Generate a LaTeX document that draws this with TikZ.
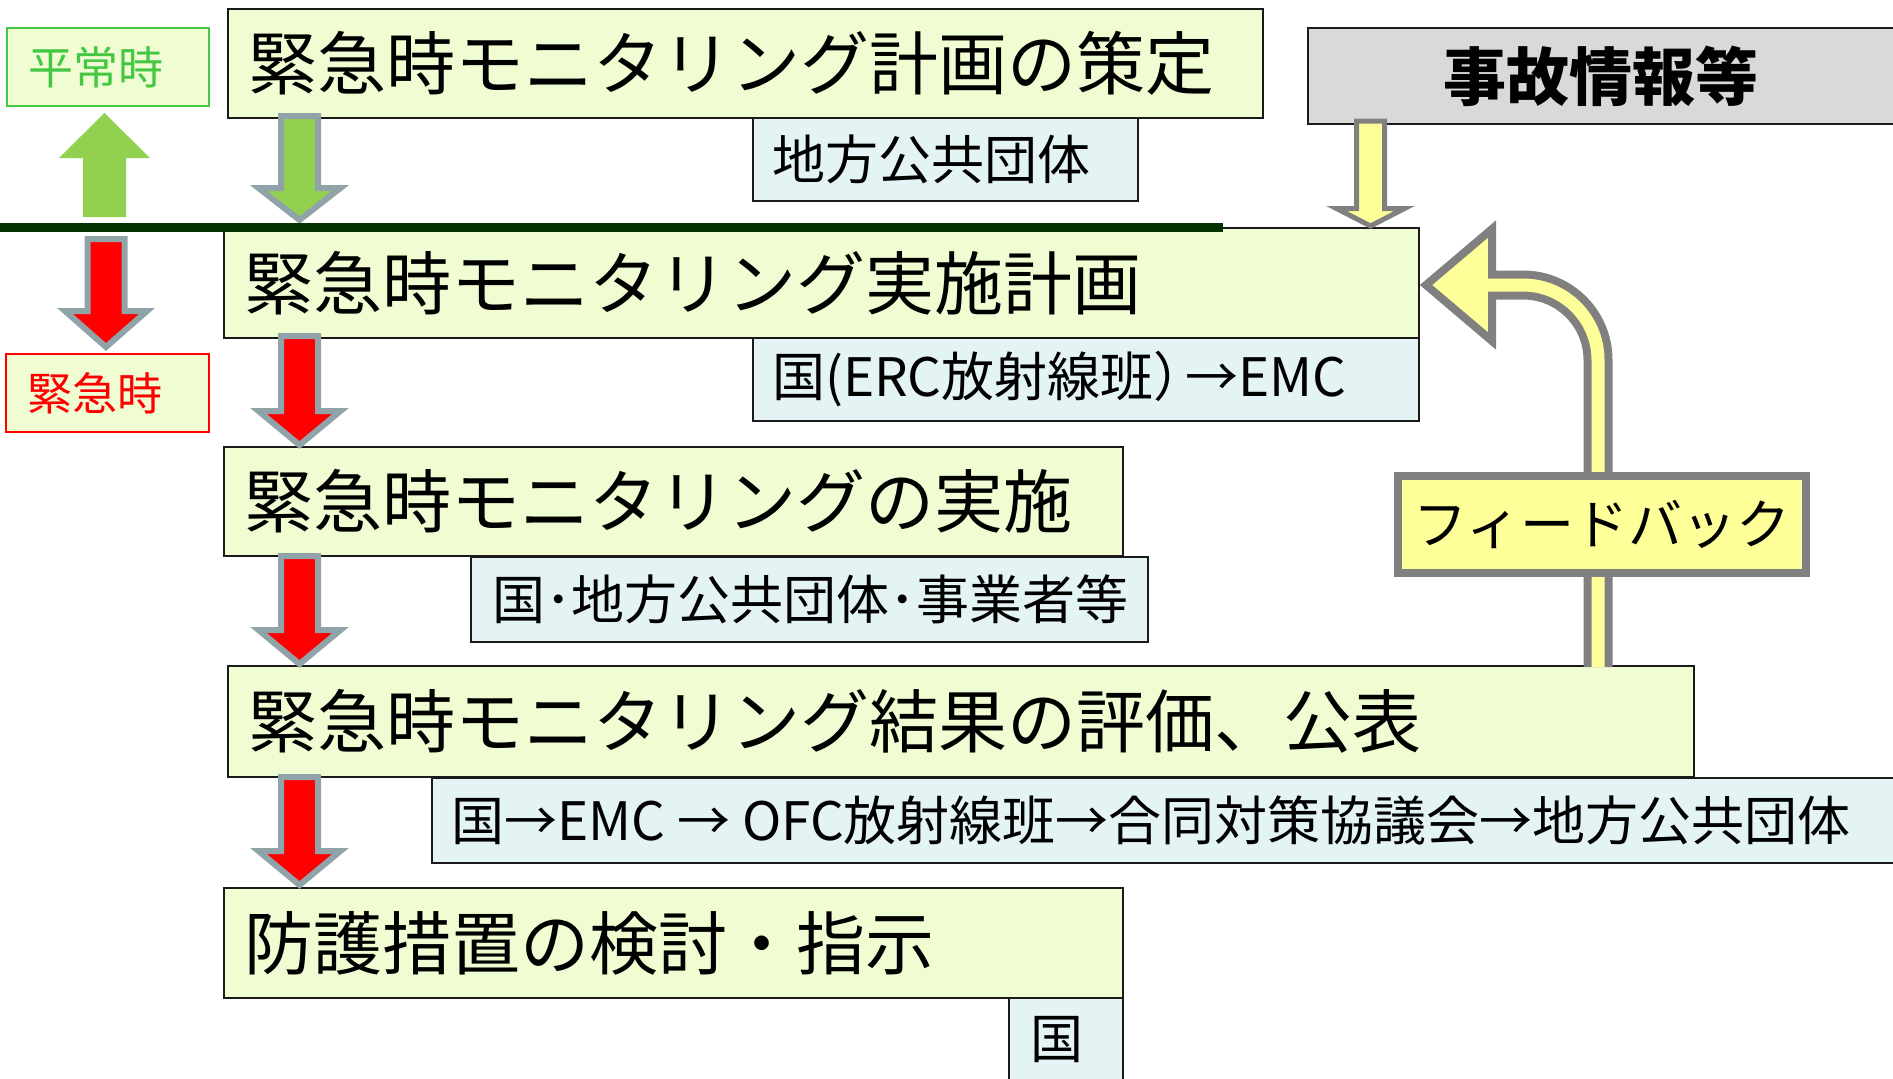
\documentclass[tikz,border=0pt]{standalone}
\usepackage{fontspec}
\setmainfont{Noto Sans CJK JP}
\definecolor{mainfill}{HTML}{F0FCD2}
\definecolor{subfill}{HTML}{E4F3F4}
\definecolor{boxline}{HTML}{1A1A1A}
\definecolor{jikofill}{HTML}{D9D9D9}
\definecolor{fbyellow}{HTML}{FFFF99}
\definecolor{fbgray}{HTML}{808080}
\definecolor{arrborder}{HTML}{8FA3A8}
\definecolor{agreen}{HTML}{92D050}
\definecolor{ared}{HTML}{FF0000}
\definecolor{heigreen}{HTML}{44C844}
\definecolor{sepline}{HTML}{033303}
\newcommand\blkdown[5]{%
  \filldraw[blkarrow, fill=#4] ({#1-18.5},#2) -- ({#1-18.5},{#3-#5}) -- ({#1-41},{#3-#5}) -- (#1,#3) -- ({#1+41},{#3-#5}) -- ({#1+18.5},{#3-#5}) -- ({#1+18.5},#2) -- cycle;}
\begin{document}
\begin{tikzpicture}[x=1pt,y=-1pt,
  mainbox/.style={draw=boxline, line width=2pt, fill=mainfill, anchor=north west, inner sep=0pt},
  subbox/.style={draw=boxline, line width=2pt, fill=subfill, anchor=north west, inner sep=0pt},
  maintext/.style={anchor=west, inner sep=0pt, font=\fontsize{69}{69}\selectfont},
  subtext/.style={anchor=west, inner sep=0pt, font=\fontsize{53}{53}\selectfont},
  blkarrow/.style={draw=arrborder, line width=6pt, line join=miter},
  fbline/.style={line width=29pt, draw=fbgray, rounded corners=75pt},
  fbinner/.style={line width=13pt, draw=fbyellow, rounded corners=75pt}
]
\useasboundingbox (0,0) rectangle (1893,1079);

% main boxes and sub boxes
\node[mainbox, minimum width=1035pt, minimum height=109pt] (b1) at (227,8) {};
\node[maintext] (t1) at ([xshift=21pt]b1.west) {緊急時モニタリング計画の策定};
\node[subbox, minimum width=385pt, minimum height=83pt] (s1) at (752,117) {};
\node[subtext] (u1) at ([xshift=20pt]s1.west) {地方公共団体};

\node[mainbox, minimum width=1195pt, minimum height=110pt] (b2) at (223,227) {};
\node[maintext] (t2) at ([xshift=21pt]b2.west) {緊急時モニタリング実施計画};
\node[subbox, minimum width=666pt, minimum height=83pt] (s2) at (752,337) {};
\node[subtext] (u2) at ([xshift=20pt]s2.west) {国(ERC放射線班）\kern-0.4em→EMC};

\node[mainbox, minimum width=899pt, minimum height=109pt] (b3) at (223,446) {};
\node[maintext] (t3) at ([xshift=21pt]b3.west) {緊急時モニタリングの実施};
\node[subbox, minimum width=677pt, minimum height=85pt] (s3) at (470,556) {};
\node[subtext] (u3) at ([xshift=22pt]s3.west) {国･地方公共団体･事業者等};

\node[mainbox, minimum width=1466pt, minimum height=111pt] (b4) at (227,665) {};
\node[maintext] (t4) at ([xshift=21pt]b4.west) {緊急時モニタリング結果の評価、公表};
\node[subbox, minimum width=1469pt, minimum height=85pt] (s4) at (431,777) {};
\node[subtext] (u4) at ([xshift=20pt]s4.west) {国→EMC → OFC放射線班→合同対策協議会→地方公共団体};

\node[mainbox, minimum width=899pt, minimum height=110pt] (b5) at (223,887) {};
\node[maintext] (t5) at ([xshift=21pt]b5.west) {防護措置の検討・指示};
\node[subbox, minimum width=114pt, minimum height=84pt] (s5) at (1008,997) {};
\node[subtext] (u5) at ([xshift=22pt]s5.west) {国};

% accident info box
\node[draw=boxline, line width=2pt, fill=jikofill, anchor=north west, minimum width=593pt, minimum height=96pt, inner sep=0pt] (jiko) at (1307,27) {};
\node[inner sep=0pt, font=\fontsize{63}{63}\selectfont\bfseries] (jt) at (1601,76) {事故情報等};

% feedback arrow
\coordinate (fbstart) at (1598,667);
\coordinate (fbcorner) at (1598,285);
\coordinate (fbend) at (1486,285);
\draw[fbline] (fbstart) -- (fbcorner) -- (fbend);
\filldraw[draw=fbgray, fill=fbyellow, line width=8pt, line join=miter] (1492,229) -- (1426,285) -- (1492,341) -- cycle;
\draw[fbinner] (fbstart) -- (fbcorner) -- (fbend);
\node[draw=fbgray, line width=8pt, fill=fbyellow, minimum width=408pt, minimum height=97pt, inner sep=0pt, font=\fontsize{54}{54}\selectfont] (fb) at (1602,524.5) {フィードバック};

% yellow arrow from accident info
\filldraw[draw=fbgray, fill=fbyellow, line width=5pt, line join=miter] (1356.5,121) -- (1356.5,208.5) -- (1336.5,208.5) -- (1370.5,226) -- (1404.5,208.5) -- (1384.5,208.5) -- (1384.5,121) -- cycle;

% flow arrows
\blkdown{299.5}{116}{220}{agreen}{32}
\blkdown{299.5}{336}{445}{ared}{34}
\blkdown{299.5}{556}{664}{ared}{34}
\blkdown{299.5}{777}{885}{ared}{34}

% separator line
\coordinate (lineL) at (0,227.5);
\coordinate (lineR) at (1223,227.5);
\draw[draw=sepline, line width=9pt] (lineL) -- (lineR);

% left side
\node[draw=heigreen, line width=2pt, fill=mainfill, anchor=north west, minimum width=202pt, minimum height=78pt, inner sep=0pt] (hei) at (6,27) {};
\node[anchor=west, inner sep=0pt, text=heigreen, font=\fontsize{45}{45}\selectfont] (heit) at ([xshift=22pt]hei.west) {平常時};
\fill[agreen] (83,217) -- (83,158) -- (59,158) -- (104.5,113) -- (150,158) -- (126,158) -- (126,217) -- cycle;
\blkdown{106}{239}{347}{ared}{36}
\node[draw=ared, line width=2pt, fill=mainfill, anchor=north west, minimum width=203pt, minimum height=78pt, inner sep=0pt] (kin) at (5,353) {};
\node[anchor=west, inner sep=0pt, text=ared, font=\fontsize{45}{45}\selectfont] (kint) at ([xshift=22pt]kin.west) {緊急時};
\end{tikzpicture}
\end{document}
